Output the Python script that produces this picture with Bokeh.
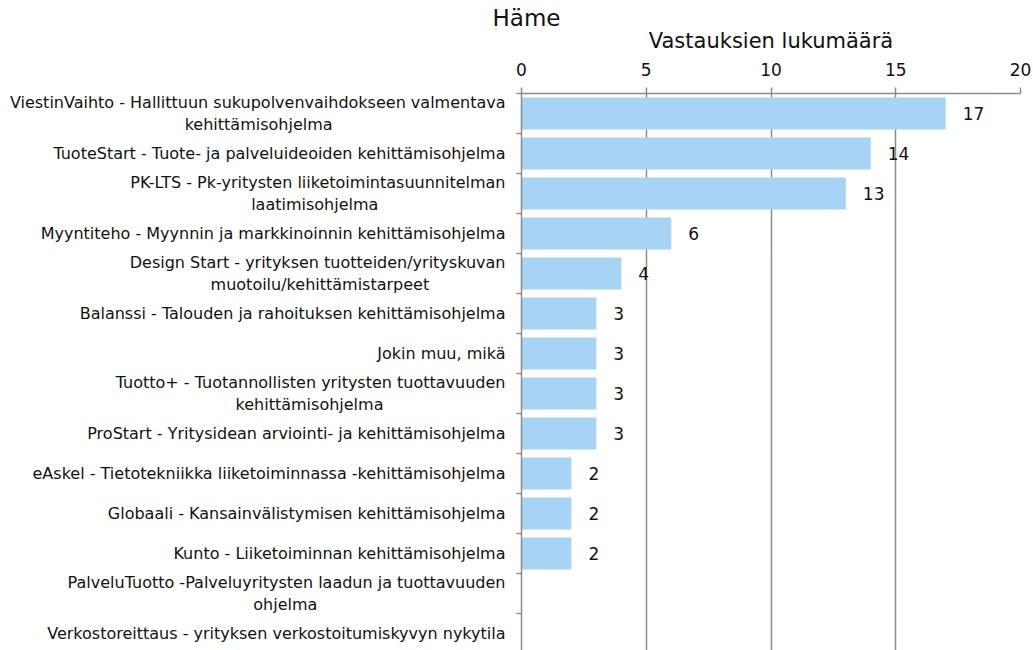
from bokeh.plotting import figure
from bokeh.models import Range1d, FixedTicker, ColumnDataSource
from bokeh.core.properties import value
from bokeh.embed import file_html
from bokeh.resources import INLINE

title_text = "Häme"
x_label = "Vastauksien lukumäärä"
categories = [
    "ViestinVaihto - Hallittuun sukupolvenvaihdokseen valmentava\nkehittämisohjelma",
    "TuoteStart - Tuote- ja palveluideoiden kehittämisohjelma",
    "PK-LTS - Pk-yritysten liiketoimintasuunnitelman\nlaatimisohjelma",
    "Myyntiteho - Myynnin ja markkinoinnin kehittämisohjelma",
    "Design Start - yrityksen tuotteiden/yrityskuvan\nmuotoilu/kehittämistarpeet",
    "Balanssi - Talouden ja rahoituksen kehittämisohjelma",
    "Jokin muu, mikä",
    "Tuotto+ - Tuotannollisten yritysten tuottavuuden\nkehittämisohjelma",
    "ProStart - Yritysidean arviointi- ja kehittämisohjelma",
    "eAskel - Tietotekniikka liiketoiminnassa -kehittämisohjelma",
    "Globaali - Kansainvälistymisen kehittämisohjelma",
    "Kunto - Liiketoiminnan kehittämisohjelma",
    "PalveluTuotto -Palveluyritysten laadun ja tuottavuuden\nohjelma",
    "Verkostoreittaus - yrityksen verkostoitumiskyvyn nykytila",
]
counts = [17, 14, 13, 6, 4, 3, 3, 3, 3, 2, 2, 2, 0, 0]
x_ticks = [0, 5, 10, 15, 20]

FONT = "DejaVu Sans"
GRAY = "#8c8c8c"
BAR = "#a7d3f4"
LABEL_PX = 16

# approximate DejaVu Sans advance widths (em), used only to centre wrapped lines
_W = {" ": .318, "-": .361, "/": .337, "+": .838, ",": .318,
      "V": .684, "H": .752, "P": .603, "K": .656, "L": .557, "T": .611,
      "S": .635, "D": .770,
      "a": .613, "b": .635, "c": .550, "d": .635, "e": .615, "f": .352,
      "g": .635, "h": .634, "i": .278, "j": .278, "k": .579, "l": .278,
      "m": .974, "n": .634, "o": .612, "p": .635, "r": .411, "s": .521,
      "t": .392, "u": .634, "v": .592, "y": .592, "ä": .613, "z": .525}


def _width(s):
    return sum(_W.get(ch, 0.6) for ch in s)


def centred(label):
    lines = label.split("\n")
    if len(lines) == 1:
        return label
    w = [_width(s) for s in lines]
    wmax = max(w)
    out = []
    for s, ws in zip(lines, w):
        n = int(round((wmax - ws) / 2 / _W[" "]))
        out.append(s + "\u00a0" * n)
    return "\n".join(out)


pos = list(range(len(categories)))
nz = [i for i in pos if counts[i] > 0]
src = ColumnDataSource(dict(
    y=[pos[i] for i in nz],
    v=[counts[i] for i in nz],
    t=[str(counts[i]) for i in nz],
))

p = figure(
    width=1033, height=650,
    x_range=Range1d(0, 20),
    y_range=Range1d(13.425, -0.5),
    x_axis_location="above",
    output_backend="svg",
    toolbar_location=None,
    min_border_left=521, min_border_right=13,
    min_border_top=93, min_border_bottom=0,
)
p.outline_line_color = None
p.background_fill_color = "white"

p.hbar(y="y", right="v", left=0, height=0.8, source=src,
       fill_color=BAR, line_color=None)
p.text(x="v", y="y", text="t", source=src, x_offset=17,
       text_align="left", text_baseline="middle",
       text_font=value(FONT), text_font_size="17px", text_color="#111111")

# title
p.title.text = title_text
p.title.text_font = FONT
p.title.text_font_size = "23px"
p.title.text_font_style = "normal"
p.title.text_color = "#111111"
p.title.align = "left"
p.title.offset = -29
p.title.standoff = -11

# x axis (top)
xa = p.xaxis[0]
xa.ticker = FixedTicker(ticks=x_ticks)
xa.axis_label = x_label
xa.axis_label_text_font = FONT
xa.axis_label_text_font_size = "21px"
xa.axis_label_text_font_style = "normal"
xa.axis_label_text_color = "#111111"
xa.axis_label_standoff = 7
xa.major_label_text_font = FONT
xa.major_label_text_font_size = "17px"
xa.major_label_text_color = "#111111"
xa.major_label_standoff = 12
xa.axis_line_color = GRAY
xa.axis_line_width = 1.5
xa.major_tick_line_color = GRAY
xa.major_tick_line_width = 1.5
xa.major_tick_out = 6
xa.major_tick_in = 0
xa.minor_tick_line_color = None

# y axis (left)
ya = p.yaxis[0]
ya.ticker = FixedTicker(ticks=pos, minor_ticks=[i + 0.5 for i in range(-1, len(categories))])
ya.major_label_overrides = {i: centred(c) for i, c in zip(pos, categories)}
ya.major_label_text_font = FONT
ya.major_label_text_font_size = f"{LABEL_PX}px"
ya.major_label_text_color = "#111111"
ya.major_label_standoff = 11
ya.major_tick_line_color = None
ya.major_tick_out = 0
ya.major_tick_in = 0
ya.minor_tick_line_color = GRAY
ya.minor_tick_line_width = 1.5
ya.minor_tick_out = 5
ya.minor_tick_in = 0
ya.axis_line_color = GRAY
ya.axis_line_width = 1.5

p.xgrid.ticker = FixedTicker(ticks=x_ticks)
p.xgrid.grid_line_color = GRAY
p.xgrid.grid_line_width = 1.5
p.ygrid.grid_line_color = None

open("out.html", "w").write(file_html(p, INLINE))
